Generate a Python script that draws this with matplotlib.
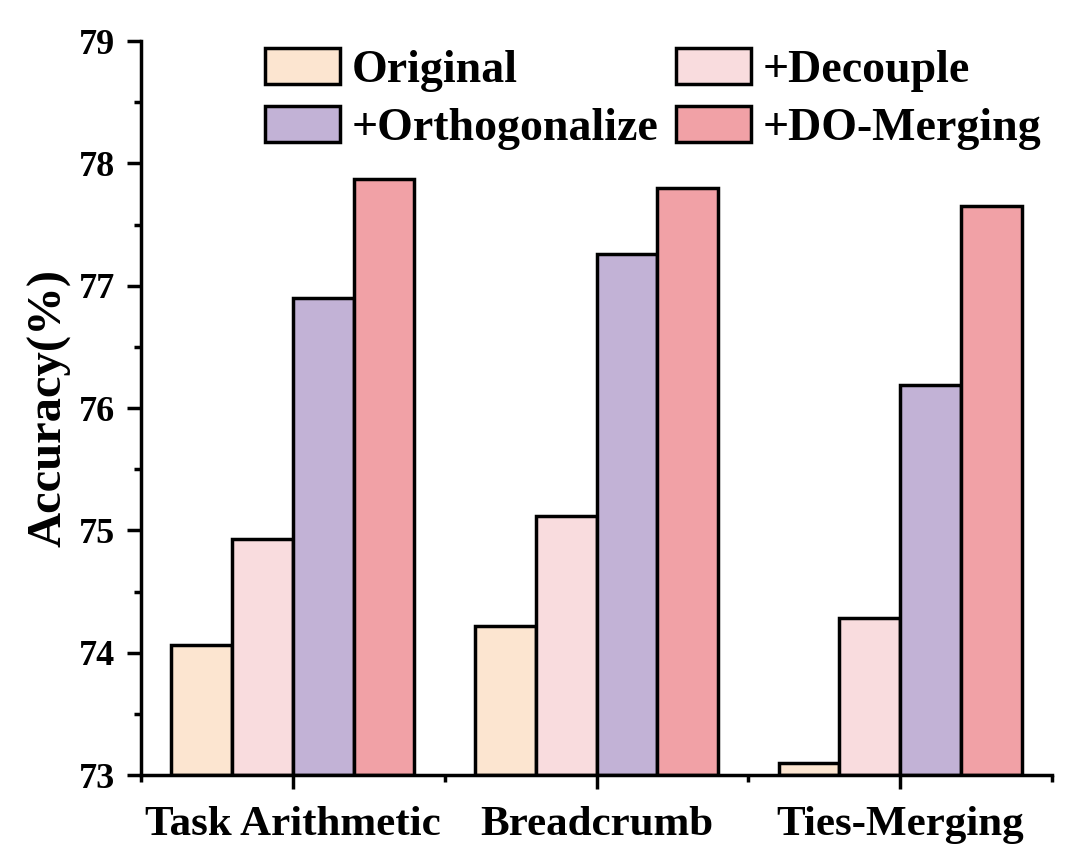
import matplotlib.pyplot as plt
import numpy as np
from matplotlib.ticker import MultipleLocator, FixedLocator

# data
groups = ["Task Arithmetic", "Breadcrumb", "Ties-Merging"]
original = [74.06, 74.22, 73.10]
decouple = [74.93, 75.12, 74.28]
orthogonalize = [76.90, 77.26, 76.19]
do_merging = [77.87, 77.80, 77.65]
yticks = [73, 74, 75, 76, 77, 78, 79]

series = [
    ("Original", original, "#FCE5D0"),
    ("+Decouple", decouple, "#F9DCDE"),
    ("+Orthogonalize", orthogonalize, "#C2B2D6"),
    ("+DO-Merging", do_merging, "#F1A1A6"),
]

plt.rcParams["font.family"] = ["Liberation Serif", "DejaVu Serif"]
plt.rcParams["font.weight"] = "bold"

fig = plt.figure(figsize=(10.8, 8.58), dpi=100)
ax = fig.add_axes([0.1306, 0.0967, 0.8435, 0.8555])

x = np.arange(len(groups))
width = 0.2
handles = []
for i, (name, vals, color) in enumerate(series):
    b = ax.bar(x + (i - 1.5) * width, np.array(vals) - 73, width, bottom=73,
               color=color, edgecolor="black", linewidth=2.5, label=name)
    handles.append(b)

ax.set_xlim(-0.5, 2.5)
ax.set_ylim(73, 79)
ax.set_xticks(x)
ax.set_xticklabels(groups, fontsize=31, fontweight="bold")
ax.set_yticks(yticks)
ax.set_yticklabels([str(v) for v in yticks], fontsize=26, fontweight="bold")
ax.xaxis.set_minor_locator(FixedLocator([-0.5, 0.5, 1.5, 2.5]))
ax.yaxis.set_minor_locator(MultipleLocator(0.5))
ax.tick_params(axis="both", which="major", direction="out", length=10, width=2.5)
ax.tick_params(axis="y", which="major", pad=9)
ax.tick_params(axis="x", which="major", pad=12)
ax.tick_params(axis="both", which="minor", direction="out", length=5, width=2.5)

ax.set_ylabel("Accuracy(%)", fontsize=35, fontweight="bold", labelpad=5)

ax.spines["top"].set_visible(False)
ax.spines["right"].set_visible(False)
ax.spines["left"].set_linewidth(2.5)
ax.spines["bottom"].set_linewidth(2.5)

order = [0, 2, 1, 3]
leg = ax.legend([handles[k] for k in order], [series[k][0] for k in order],
                ncol=2, frameon=False, loc="upper left",
                bbox_to_anchor=(0.245, 0.944), bbox_transform=fig.transFigure,
                borderaxespad=0, borderpad=0, fontsize=33,
                handlelength=1.64, handleheight=0.83, handletextpad=0.26,
                columnspacing=0.37, labelspacing=0.3)
for t in leg.get_texts():
    t.set_fontweight("bold")

fig.savefig("out.png", dpi=100)
